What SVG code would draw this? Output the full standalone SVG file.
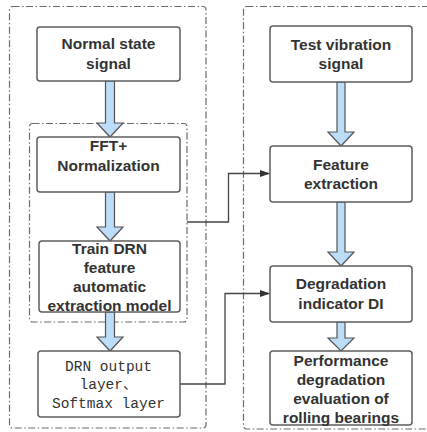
<svg xmlns="http://www.w3.org/2000/svg" width="427" height="432" viewBox="0 0 427 432">
<defs>
<style>
.grp{fill:none;stroke:#6a6a6a;stroke-width:1.2;stroke-dasharray:7,2.5,1.5,2.5}
.box{fill:#fff;stroke:#5e5e5e;stroke-width:1.5}
.blk{fill:#bcdcf8;stroke:#555;stroke-width:1.2;stroke-linejoin:miter}
.t{font-family:"Liberation Sans",Arial,sans-serif;font-weight:bold;font-size:15.5px;fill:#333;text-anchor:middle}
.m{font-family:"Liberation Mono","Noto Sans CJK SC",monospace;font-size:14.5px;fill:#333;text-anchor:middle}
.con{fill:none;stroke:#444;stroke-width:1.3}
</style>
<marker id="ah" markerWidth="10" markerHeight="8" refX="9" refY="4" orient="auto" markerUnits="userSpaceOnUse">
<path d="M0,0.5 L10,4 L0,7.5 Z" fill="#333"/>
</marker>
</defs>
<rect width="427" height="432" fill="#fff"/>
<g id="groups">
<rect class="grp" x="9.5" y="6.5" width="196.5" height="421.5" rx="3"/>
<rect class="grp" x="29.5" y="123.5" width="157.5" height="198.5" rx="3"/>
<rect class="grp" x="243.5" y="6.5" width="200" height="422.5" rx="3"/>
</g>
<g id="connectors">
<path class="blk" d="M105.5,81 L114.5,81 L114.5,123 L123,123 L110,137 L97,123 L105.5,123 Z"/>
<path class="blk" d="M105.5,192 L114.5,192 L114.5,227 L123,227 L110,241 L97,227 L105.5,227 Z"/>
<path class="blk" d="M105.5,312 L114.5,312 L114.5,337 L123,337 L110,351 L97,337 L105.5,337 Z"/>
<path class="blk" d="M337,82 L345,82 L345,132 L354,132 L341,146 L328,132 L337,132 Z"/>
<path class="blk" d="M337,202 L345,202 L345,252 L354,252 L341,266 L328,252 L337,252 Z"/>
<path class="blk" d="M337,322 L345,322 L345,338 L354,338 L341,351 L328,338 L337,338 Z"/>
<path class="con" d="M187,222 H228.5 V173.5 H269" marker-end="url(#ah)"/>
<path class="con" d="M180,384 H225 V293.5 H269" marker-end="url(#ah)"/>
</g>
<g id="n1">
<rect class="box" x="37" y="27" width="143" height="54" rx="3"/>
<text class="t" x="108.5" y="48.5">Normal state</text>
<text class="t" x="108.5" y="68.5">signal</text>
</g>
<g id="n2">
<rect class="box" x="37" y="137" width="143" height="55" rx="3"/>
<text class="t" x="108.5" y="150.5">FFT+</text>
<text class="t" x="108.5" y="170.5">Normalization</text>
</g>
<g id="n3">
<rect class="box" x="39" y="241" width="141" height="71" rx="3"/>
<text class="t" x="109.5" y="253.5">Train DRN</text>
<text class="t" x="109.5" y="272.5">feature</text>
<text class="t" x="109.5" y="291.5">automatic</text>
<text class="t" x="109.5" y="310.5">extraction model</text>
</g>
<g id="n4">
<rect class="box" x="38" y="351" width="142" height="66" rx="3"/>
<text class="m" x="108.5" y="371">DRN output</text>
<text class="m" x="108.5" y="389">layer、</text>
<text class="m" x="108.5" y="408">Softmax layer</text>
</g>
<g id="n5">
<rect class="box" x="270" y="26" width="142" height="56" rx="3"/>
<text class="t" x="341" y="49.5">Test vibration</text>
<text class="t" x="341" y="68.5">signal</text>
</g>
<g id="n6">
<rect class="box" x="270" y="146" width="142" height="56" rx="3"/>
<text class="t" x="341" y="169.5">Feature</text>
<text class="t" x="341" y="188.5">extraction</text>
</g>
<g id="n7">
<rect class="box" x="270" y="266" width="142" height="56" rx="3"/>
<text class="t" x="341" y="288.5">Degradation</text>
<text class="t" x="341" y="308.5">indicator DI</text>
</g>
<g id="n8">
<rect class="box" x="270" y="351" width="142" height="74" rx="3"/>
<text class="t" x="341" y="365.5">Performance</text>
<text class="t" x="341" y="384.5">degradation</text>
<text class="t" x="341" y="403.5">evaluation of</text>
<text class="t" x="341" y="422.5">rolling bearings</text>
</g>
</svg>
